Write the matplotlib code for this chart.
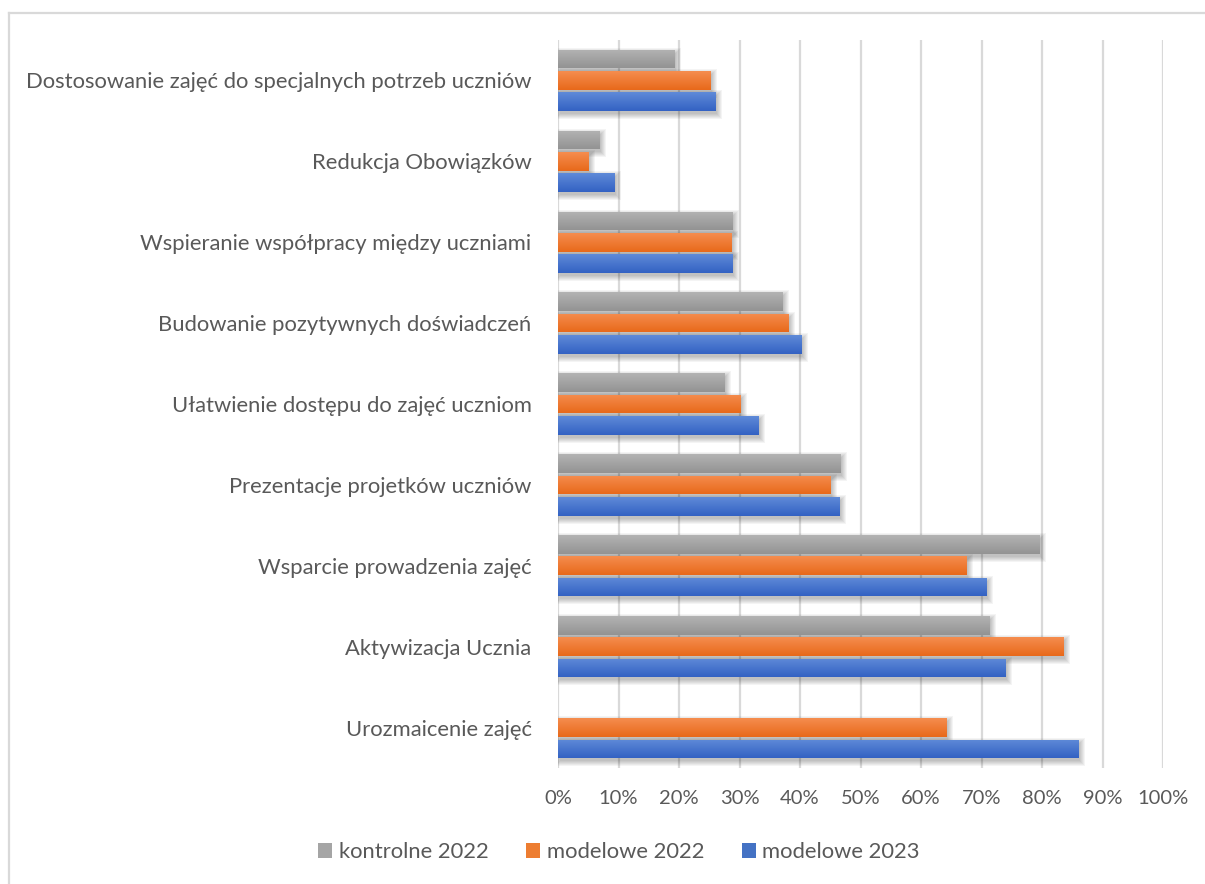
import numpy as np
import matplotlib
matplotlib.use("Agg")
import matplotlib.pyplot as plt
from matplotlib.colors import LinearSegmentedColormap
from matplotlib.patches import Patch, Rectangle
from matplotlib.lines import Line2D

# Categories listed top to bottom as they appear on the chart
categories = [
    "Dostosowanie zajęć do specjalnych potrzeb uczniów",
    "Redukcja Obowiązków",
    "Wspieranie współpracy między uczniami",
    "Budowanie pozytywnych doświadczeń",
    "Ułatwienie dostępu do zajęć uczniom",
    "Prezentacje projetków uczniów",
    "Wsparcie prowadzenia zajęć",
    "Aktywizacja Ucznia",
    "Urozmaicenie zajęć",
]
kontrolne_2022 = [19.2, 6.8, 28.8, 37.1, 27.5, 46.7, 79.6, 71.4, 0.0]
modelowe_2022 = [25.2, 5.1, 28.6, 38.1, 30.1, 45.0, 67.5, 83.6, 64.2]
modelowe_2023 = [26.0, 9.4, 28.8, 40.2, 33.1, 46.5, 70.9, 74.0, 86.1]

series_names = ["kontrolne 2022", "modelowe 2022", "modelowe 2023"]
x_ticks = list(range(0, 101, 10))

# (light top, dark bottom, legend swatch)
palette = [
    ("#b3b3b3", "#939393", "#a5a5a5"),
    ("#f58d4f", "#e8691a", "#ed7d31"),
    ("#5f8ad8", "#3362c3", "#4472c4"),
]

text_color = "#595959"
grid_color = "#d9d9d9"
font = "Lato"
fs_ticks = 14.5
fs_labels = 15.8

W, H = 1205, 884
fig = plt.figure(figsize=(W / 100, H / 100), dpi=100)
fig.patch.set_facecolor("white")
ax_l, ax_r, ax_t, ax_b = 558, 1163, 40, 768
ax = fig.add_axes([ax_l / W, 1 - ax_b / H, (ax_r - ax_l) / W, (ax_b - ax_t) / H])

n = len(categories)
pos = np.arange(n)[::-1].astype(float)  # top category gets highest y
pitch = 0.264
height = 0.23
offsets = [pitch, 0.0, -pitch]

ax.set_xlim(0, 100)
ax.set_ylim(-0.5, n - 0.5)

# pixel -> data unit conversion for the soft drop shadow
px_x = 100 / (ax_r - ax_l)
px_y = n / (ax_b - ax_t)
shadow_dx, shadow_dy = 1.5, 3.0
blur_steps = [0, 1, 2, 3, 4, 5]

for values, off, (c_light, c_dark, _) in zip(
        [kontrolne_2022, modelowe_2022, modelowe_2023], offsets, palette):
    cmap = LinearSegmentedColormap.from_list("g", [c_light, c_dark])
    bars = ax.barh(pos + off, values, height=height, color=c_dark,
                   linewidth=0, zorder=3)
    for b, v in zip(bars, values):
        if v <= 0:
            b.set_visible(False)
            continue
        y0 = b.get_y()
        for e in blur_steps:
            ax.add_patch(Rectangle(
                (shadow_dx * px_x - e * px_x, y0 - shadow_dy * px_y - e * px_y),
                v + 2 * e * px_x, height + 2 * e * px_y,
                facecolor="black", alpha=0.045, linewidth=0, zorder=2))
        grad = np.linspace(0, 1, 64).reshape(-1, 1)
        im = ax.imshow(grad, extent=[0, v, y0, y0 + height], aspect="auto",
                       cmap=cmap, interpolation="bilinear", zorder=4)
        im.set_clip_path(b)

ax.set_xlim(0, 100)
ax.set_ylim(-0.5, n - 0.5)
ax.set_aspect("auto")

ax.set_xticks(x_ticks)
ax.set_xticklabels([f"{t}%" for t in x_ticks], fontsize=fs_ticks,
                   color=text_color, family=font)
ax.set_yticks(pos)
ax.set_yticklabels(categories, fontsize=fs_labels, color=text_color,
                   family=font)
ax.tick_params(axis="both", length=0)
ax.tick_params(axis="x", pad=16)
ax.tick_params(axis="y", pad=19)

ax.grid(axis="x", color=grid_color, linewidth=1.6, zorder=0)
ax.set_axisbelow(True)
for s in ax.spines.values():
    s.set_visible(False)

# Legend along the bottom
handles = [Patch(facecolor=c[2], edgecolor="none") for c in palette]
fig.legend(handles, series_names, loc="center",
           bbox_to_anchor=(619 / W, 1 - 852 / H), ncol=3, frameon=False,
           prop={"family": font, "size": fs_labels}, labelcolor=text_color,
           handlelength=0.65, handleheight=0.65, handletextpad=0.3,
           columnspacing=1.7)

# Thin frame at the top and left edges of the chart area
fig.add_artist(Line2D([8.5 / W, 1], [1 - 12.5 / H] * 2, color=grid_color,
                      linewidth=1.6, transform=fig.transFigure))
fig.add_artist(Line2D([8.5 / W] * 2, [0, 1 - 12.5 / H], color=grid_color,
                      linewidth=1.6, transform=fig.transFigure))

fig.savefig("out.png", dpi=100, facecolor="white")
